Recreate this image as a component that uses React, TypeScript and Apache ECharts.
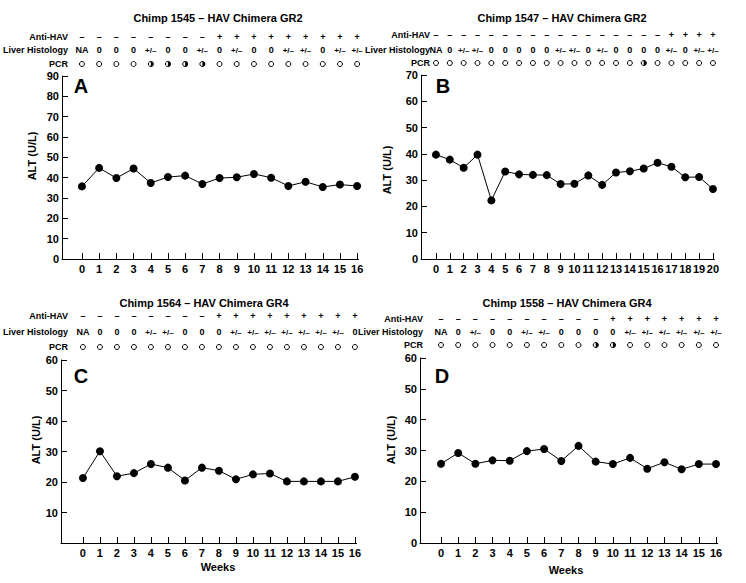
import React, { useEffect, useRef } from "react";
import * as echarts from "echarts";

const FONT = '"Liberation Sans", Arial, Helvetica, sans-serif';

// ---------- data ----------
const titleA = "Chimp 1545 – HAV Chimera GR2";
const titleB = "Chimp 1547 – HAV Chimera GR2";
const titleC = "Chimp 1564 – HAV Chimera GR4";
const titleD = "Chimp 1558 – HAV Chimera GR4";

const weeks16 = [0, 1, 2, 3, 4, 5, 6, 7, 8, 9, 10, 11, 12, 13, 14, 15, 16];
const weeks20 = [0, 1, 2, 3, 4, 5, 6, 7, 8, 9, 10, 11, 12, 13, 14, 15, 16, 17, 18, 19, 20];

const altA = [35.7, 44.8, 39.8, 44.5, 37.4, 40.3, 41.0, 36.9, 39.8, 40.2, 41.8, 40.0, 35.9, 38.0, 35.4, 36.6, 35.9];
const altB = [39.7, 37.8, 34.7, 39.7, 22.3, 33.3, 32.2, 32.0, 31.9, 28.5, 28.6, 31.8, 28.2, 32.9, 33.4, 34.4, 36.6, 35.1, 31.1, 31.2, 26.6];
const altC = [21.3, 30.1, 21.9, 22.9, 25.9, 24.7, 20.5, 24.7, 23.7, 20.9, 22.5, 22.8, 20.2, 20.2, 20.2, 20.2, 21.7];
const altD = [25.7, 29.2, 25.7, 26.8, 26.7, 29.8, 30.5, 26.6, 31.5, 26.4, 25.6, 27.6, 24.1, 26.2, 23.9, 25.6, 25.6];

const antiA = ["–", "–", "–", "–", "–", "–", "–", "–", "+", "+", "+", "+", "+", "+", "+", "+", "+"];
const antiB = ["–", "–", "–", "–", "–", "–", "–", "–", "–", "–", "–", "–", "–", "–", "–", "–", "–", "+", "+", "+", "+"];
const antiC = ["–", "–", "–", "–", "–", "–", "–", "–", "+", "+", "+", "+", "+", "+", "+", "+", "+"];
const antiD = ["–", "–", "–", "–", "–", "–", "–", "–", "–", "–", "+", "+", "+", "+", "+", "+", "+"];

const liverA = ["NA", "0", "0", "0", "+/–", "0", "0", "+/–", "0", "+/–", "0", "0", "+/–", "+/–", "0", "+/–", "+/–"];
const liverB = ["NA", "0", "+/–", "+/–", "0", "0", "0", "0", "0", "+/–", "+/–", "0", "+/–", "0", "0", "0", "0", "+/–", "0", "+/–", "+/–"];
const liverC = ["NA", "0", "0", "0", "+/–", "+/–", "0", "0", "0", "+/–", "+/–", "+/–", "+/–", "+/–", "+/–", "+/–", "0"];
const liverD = ["NA", "0", "+/–", "0", "0", "+/–", "+/–", "0", "0", "0", "0", "+/–", "+/–", "+/–", "+/–", "+/–", "+/–"];

// 0 = open circle, 1 = half-filled circle
const pcrA = [0, 0, 0, 0, 1, 1, 1, 1, 0, 0, 0, 0, 0, 0, 0, 0, 0];
const pcrB = [0, 0, 0, 0, 0, 0, 0, 0, 0, 0, 0, 0, 0, 0, 0, 1, 0, 0, 0, 0, 0];
const pcrC = [0, 0, 0, 0, 0, 0, 0, 0, 0, 0, 0, 0, 0, 0, 0, 0, 0];
const pcrD = [0, 0, 0, 0, 0, 0, 0, 0, 0, 1, 1, 0, 0, 0, 0, 0, 0];

const rowLabels = ["Anti-HAV", "Liver Histology", "PCR"];

// ---------- layout ----------
const panels = [
  {
    title: titleA, letter: "A", weeks: weeks16, alt: altA, anti: antiA, liver: liverA, pcr: pcrA,
    left: 62, top: 76, height: 183, spacing: 17.2, xMin: -1.16, xMax: 16.08, yMax: 90, showZero: true,
    titleX: 218, titleY: 18, rowsY: [37, 50, 64], labelRight: 68, letterX: 81, letterY: 86,
    nameX: 32, nameY: 156, weeksLabel: null as null | number[],
  },
  {
    title: titleB, letter: "B", weeks: weeks20, alt: altB, anti: antiB, liver: liverB, pcr: pcrB,
    left: 421, top: 75, height: 184, spacing: 13.85, xMin: -1.08, xMax: 20.1, yMax: 70, showZero: true,
    titleX: 562, titleY: 18, rowsY: [35, 50, 63], labelRight: 430, letterX: 443, letterY: 86,
    nameX: 387, nameY: 170, weeksLabel: null as null | number[],
  },
  {
    title: titleC, letter: "C", weeks: weeks16, alt: altC, anti: antiC, liver: liverC, pcr: pcrC,
    left: 61, top: 360, height: 183, spacing: 17.0, xMin: -1.29, xMax: 16.1, yMax: 60, showZero: false,
    titleX: 204, titleY: 303, rowsY: [316, 332, 347], labelRight: 68, letterX: 81, letterY: 376,
    nameX: 36, nameY: 440, weeksLabel: [218, 567],
  },
  {
    title: titleD, letter: "D", weeks: weeks16, alt: altD, anti: antiD, liver: liverD, pcr: pcrD,
    left: 420, top: 358, height: 185, spacing: 17.19, xMin: -1.22, xMax: 16.1, yMax: 60, showZero: true,
    titleX: 567, titleY: 303, rowsY: [319, 332, 345], labelRight: 423, letterX: 442, letterY: 376,
    nameX: 391, nameY: 440, weeksLabel: [566, 570],
  },
];

export default function App() {
  const ref = useRef<HTMLDivElement>(null);

  useEffect(() => {
    if (!ref.current) return;
    const chart = echarts.init(ref.current, null, { renderer: "svg" });
    const grid: any[] = [];
    const xAxis: any[] = [];
    const yAxis: any[] = [];
    const series: any[] = [];
    const labelStyle = { color: "#000", fontWeight: "bold", fontSize: 11, fontFamily: FONT };

    panels.forEach((p, i) => {
      const width = p.spacing * (p.xMax - p.xMin);
      grid.push({ left: p.left, top: p.top, width, height: p.height, containLabel: false });
      xAxis.push({
        type: "value", gridIndex: i, min: p.xMin, max: p.xMax,
        axisLine: { show: true, onZero: false, lineStyle: { color: "#000", width: 1 } },
        axisTick: { show: true, inside: true, length: 6, customValues: p.weeks, lineStyle: { color: "#000", width: 1 } },
        axisLabel: { ...labelStyle, customValues: p.weeks, margin: 4 },
        splitLine: { show: false },
      });
      yAxis.push({
        type: "value", gridIndex: i, min: 0, max: p.yMax, interval: 10,
        axisLine: { show: true, onZero: false, lineStyle: { color: "#000", width: 1 } },
        axisTick: { show: true, inside: true, length: 6, lineStyle: { color: "#000", width: 1 } },
        axisLabel: { ...labelStyle, margin: 3, showMinLabel: p.showZero },
        splitLine: { show: false },
      });
      series.push({
        type: "line", xAxisIndex: i, yAxisIndex: i,
        data: p.weeks.map((w, j) => [w, p.alt[j]]),
        symbol: "circle", symbolSize: 8,
        itemStyle: { color: "#000" },
        lineStyle: { color: "#000", width: 1 },
      });
    });

    chart.setOption({ animation: false, backgroundColor: "#fff", grid, xAxis, yAxis, series });

    const g: any[] = [];
    const hdrFont = `bold 9px ${FONT}`;
    panels.forEach((p, i) => {
      const px = (w: number) => (chart.convertToPixel({ xAxisIndex: i, yAxisIndex: i } as any, [w, 0]) as number[])[0];
      g.push({
        type: "text", x: p.titleX, y: p.titleY,
        style: { text: p.title, fill: "#000", font: `bold 11px ${FONT}`, align: "center", verticalAlign: "middle" },
      });
      rowLabels.forEach((lab, r) => {
        g.push({
          type: "text", x: p.labelRight, y: p.rowsY[r],
          style: { text: lab, fill: "#000", font: hdrFont, align: "right", verticalAlign: "middle" },
        });
      });
      p.weeks.forEach((w, j) => {
        const x = px(w);
        g.push({
          type: "text", x, y: p.rowsY[0],
          style: { text: p.anti[j], fill: "#000", font: hdrFont, align: "center", verticalAlign: "middle" },
        });
        const lv = p.liver[j];
        g.push({
          type: "text", x, y: p.rowsY[1],
          style: { text: lv, fill: "#000", font: lv === "+/–" ? `bold 8px ${FONT}` : hdrFont, align: "center", verticalAlign: "middle" },
        });
        g.push({
          type: "circle", shape: { cx: x, cy: p.rowsY[2], r: 2.5 },
          style: { fill: "#fff", stroke: "#000", lineWidth: 1 },
        });
        if (p.pcr[j] === 1) {
          g.push({
            type: "sector",
            shape: { cx: x, cy: p.rowsY[2], r: 2.8, r0: 0, startAngle: -Math.PI / 2, endAngle: Math.PI / 2, clockwise: true },
            style: { fill: "#000" },
          });
        }
      });
      g.push({
        type: "text", x: p.letterX, y: p.letterY,
        style: { text: p.letter, fill: "#000", font: `bold 20px ${FONT}`, align: "center", verticalAlign: "middle" },
      });
      g.push({
        type: "text", x: p.nameX, y: p.nameY, rotation: Math.PI / 2,
        style: { text: "ALT (U/L)", fill: "#000", font: `bold 11px ${FONT}`, align: "center", verticalAlign: "middle" },
      });
      if (p.weeksLabel) {
        g.push({
          type: "text", x: p.weeksLabel[0], y: p.weeksLabel[1],
          style: { text: "Weeks", fill: "#000", font: `bold 11px ${FONT}`, align: "center", verticalAlign: "middle" },
        });
      }
    });
    chart.setOption({ graphic: g });

    return () => chart.dispose();
  }, []);

  return (
    <div
      ref={ref}
      style={{ position: "absolute", left: 0, top: 0, width: 746, height: 583, background: "#fff" }}
    />
  );
}
